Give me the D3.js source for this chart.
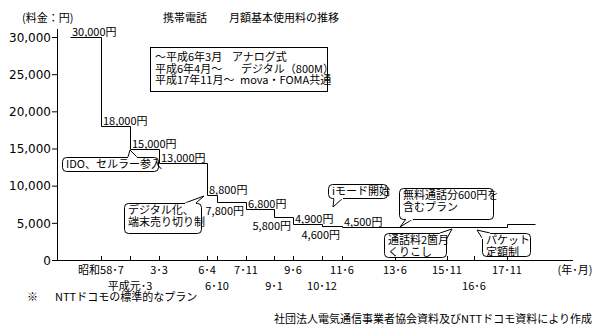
<!DOCTYPE html>
<html>
<head>
<meta charset="utf-8">
<title>携帯電話 月額基本使用料の推移</title>
<style>
  body { margin: 0; background: #fff; }
  svg { display: block; }
  text { font-family: "Noto Sans CJK JP", sans-serif; font-size: 11px; fill: #000; }
  .ytick text { font-family: "DejaVu Sans", sans-serif; font-size: 12px; }
</style>
</head>
<body>
<svg width="594" height="329"></svg>
<script src="https://d3js.org/d3.v7.min.js"></script>
<script>
// ---- data ----
var tickLabels = ["昭和58･7", "平成元･3", "3･3", "6･4", "6･10", "7･11", "9･1", "9･6", "10･12", "11･6", "13･6", "15･11", "16･6", "17･11"];
var tickDates  = [1983.5, 1989.17, 1991.17, 1994.25, 1994.75, 1995.83, 1997.0, 1997.42, 1998.92, 1999.42, 2001.42, 2003.83, 2004.42, 2005.83];
var tickRow    = [0, 1, 0, 0, 1, 0, 1, 0, 1, 0, 0, 0, 1, 0];

var changeDates = [1979.92, 1983.5, 1989.17, 1991.17, 1994.25, 1994.75, 1995.83, 1997.0, 1997.42, 1998.92, 1999.42, 2005.83];
var prices      = [30000, 18000, 15000, 13000, 8800, 7800, 6800, 5800, 4900, 4600, 4500, 4900];
var endDate = 2006.5;
var yTicks = [0, 5000, 10000, 15000, 20000, 25000, 30000];

// ---- layout ----
var svg = d3.select("svg");
var axisX = 57, axisY = 260;

// the original axis is not time proportional, so map each tick to its drawn spot
var x = d3.scaleLinear()
    .domain([changeDates[0]].concat(tickDates, [endDate]))
    .range([70, 101, 130, 159, 207, 217, 246, 274, 293, 322, 342, 395, 447, 474, 507, 535]);

var y = d3.scaleLinear().domain([0, 30000]).range([axisY, 37]);

// title + unit
svg.append("text").attr("x", 163).attr("y", 22).text("携帯電話");
svg.append("text").attr("x", 229).attr("y", 22).text("月額基本使用料の推移");
svg.append("text").attr("x", 22).attr("y", 22).text("(料金：円)");

// y axis
var yAxis = svg.append("g")
    .attr("class", "ytick")
    .attr("transform", "translate(" + axisX + ",0)")
    .call(d3.axisLeft(y).tickValues(yTicks).tickFormat(d3.format(",")).tickSize(5).tickSizeOuter(0));
yAxis.select(".domain").remove();
yAxis.selectAll("line").attr("stroke", "#000");
yAxis.selectAll("text").attr("x", -6).attr("dy", "0.36em");

svg.append("line")
    .attr("x1", axisX + 0.5).attr("x2", axisX + 0.5)
    .attr("y1", 29).attr("y2", axisY)
    .attr("stroke", "#000");

// x axis
var xAxis = svg.append("g")
    .attr("transform", "translate(0," + axisY + ")")
    .call(d3.axisBottom(x).tickValues(tickDates).tickSize(-4).tickFormat(""));
xAxis.select(".domain").remove();
xAxis.selectAll("line").attr("stroke", "#000");

svg.append("line")
    .attr("x1", axisX).attr("x2", 573)
    .attr("y1", axisY + 0.5).attr("y2", axisY + 0.5)
    .attr("stroke", "#000");

svg.append("g").selectAll("text")
  .data(tickLabels)
  .join("text")
    .attr("x", function(d, i) { return x(tickDates[i]); })
    .attr("y", function(d, i) { return tickRow[i] ? 290 : 274; })
    .attr("text-anchor", "middle")
    .text(function(d) { return d; });

svg.append("text").attr("x", 575).attr("y", 274).attr("text-anchor", "middle").text("(年･月)");

// step line
var pts = changeDates.map(function(d, i) { return [d, prices[i]]; });
pts.push([endDate, prices[prices.length - 1]]);

svg.append("path")
    .datum(pts)
    .attr("fill", "none")
    .attr("stroke", "#000")
    .attr("stroke-width", 1)
    .attr("d", d3.line()
      .x(function(d) { return Math.round(x(d[0])) + 0.5; })
      .y(function(d) { return Math.round(y(d[1])) + 0.5; })
      .curve(d3.curveStepAfter));

// price labels: above the step or below it, right-aligned to the next change
var fmt = d3.format(",");
var labelSide = ["a", "a", "a", "a", "a", "b", "a", "b", "a", "b", "a", null];
svg.append("g").selectAll("text")
  .data(prices.slice(0, -1))
  .join("text")
    .attr("x", function(d, i) {
      return labelSide[i] == "a" ? x(changeDates[i]) + 2 : x(changeDates[i + 1]) - 2;
    })
    .attr("y", function(d, i) {
      return labelSide[i] == "a" ? y(d) - 1 : y(d) + 13;
    })
    .attr("text-anchor", function(d, i) { return labelSide[i] == "a" ? "start" : "end"; })
    .text(function(d) { return fmt(d) + "円"; });

// legend box
svg.append("rect")
    .attr("x", 150.5).attr("y", 47.5).attr("width", 177).attr("height", 44)
    .attr("fill", "#fff").attr("stroke", "#000");
var legRows = [["～平成6年3月", "アナログ式", 232], ["平成6年4月～", "デジタル（800M）", 241], ["平成17年11月～", "mova・FOMA共通", 240]];
legRows.forEach(function(r, i) {
  svg.append("text").attr("x", 155).attr("y", 61 + i * 11.5).text(r[0]);
  svg.append("text").attr("x", r[2]).attr("y", 61 + i * 11.5).text(r[1]);
});

// callouts
var callouts = [
  {lines: ["IDO、セルラー参入"], box: [62, 157, 96, 14], tail: [[128, 157], [x(tickDates[1]), 150], [137, 157]]},
  {lines: ["デジタル化、", "端末売り切り制"], box: [124, 203, 77, 30], tail: [[185, 203], [204, 196], [196, 203]]},
  {lines: ["iモード開始"], box: [328, 184, 59, 14], tail: [[334, 198], [333, 207], [343, 198]]},
  {lines: ["無料通話分600円を", "含むプラン"], box: [399, 188, 94, 31], tail: [[406, 219], [400, 227], [413, 219]]},
  {lines: ["通話料2箇月", "くりこし"], box: [384, 233, 62, 24], tail: [[440, 233], [452, 229], [446, 240]]},
  {lines: ["パケット", "定額制"], box: [482, 233, 48, 23], tail: [[482, 238], [477, 230], [490, 233]]}
];

callouts.forEach(function(c) {
  var g = svg.append("g");
  g.append("rect")
      .attr("x", c.box[0] + 0.5).attr("y", c.box[1] + 0.5)
      .attr("width", c.box[2]).attr("height", c.box[3])
      .attr("rx", 4).attr("ry", 4)
      .attr("fill", "#fff").attr("stroke", "#000");
  g.append("path")
      .attr("d", "M" + c.tail[0] + "L" + c.tail[1] + "L" + c.tail[2])
      .attr("fill", "#fff").attr("stroke", "#000");
  // knock the box border out under the tail
  g.append("line")
      .attr("x1", c.tail[0][0]).attr("y1", c.tail[0][1] + 0.5)
      .attr("x2", c.tail[2][0]).attr("y2", c.tail[2][1] + 0.5)
      .attr("stroke", "#fff").attr("stroke-width", 1.6);
  c.lines.forEach(function(t, i) {
    g.append("text")
        .attr("x", c.box[0] + 4)
        .attr("y", c.box[1] + 11 + i * 12)
        .text(t);
  });
});

// notes
svg.append("text").attr("x", 27).attr("y", 301).text("※");
svg.append("text").attr("x", 55).attr("y", 301).text("NTTドコモの標準的なプラン");
svg.append("text").attr("x", 592).attr("y", 323).attr("text-anchor", "end").text("社団法人電気通信事業者協会資料及びNTTドコモ資料により作成");
</script>
</body>
</html>
